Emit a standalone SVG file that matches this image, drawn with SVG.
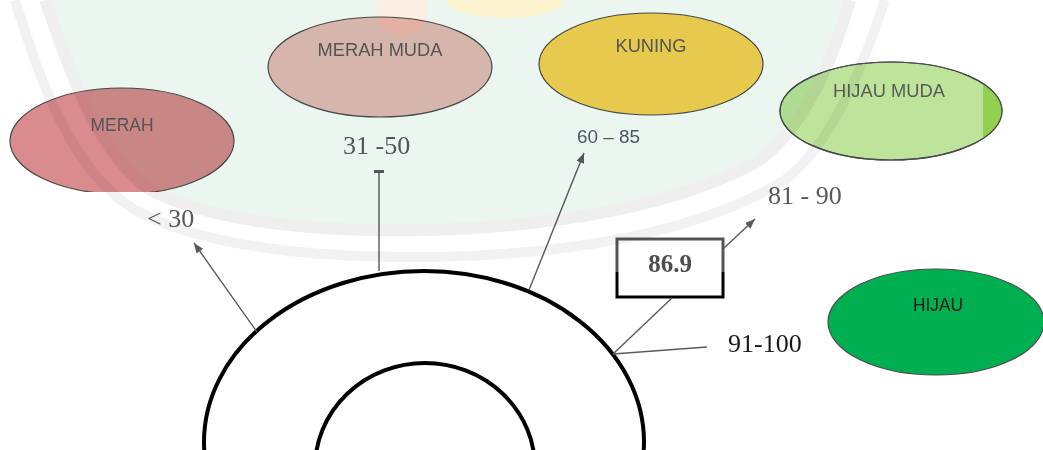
<svg xmlns="http://www.w3.org/2000/svg" width="1043" height="450" viewBox="0 0 1043 450">
  <defs>
    <style>
      .blob { stroke: #4a4a4a; stroke-width: 1.2; }
      .cap { font-family: "Liberation Sans", Arial, sans-serif; font-size: 17.5px; fill: #595959; text-anchor: middle; }
      .num { font-family: "Liberation Serif", "Times New Roman", serif; font-size: 26px; fill: #595959; }
      .conn { fill: none; stroke: #5a5a5a; stroke-width: 1.4; }
      .ring { fill: none; stroke: #000000; stroke-width: 4; }
    </style>
    <marker id="arrow" viewBox="0 0 10 8" refX="10" refY="4" markerWidth="10" markerHeight="8" markerUnits="userSpaceOnUse" orient="auto">
      <path d="M0,0 L10,4 L0,8 Z" fill="#5a5a5a"/>
    </marker>
    <linearGradient id="boxEdge" x1="0" y1="0" x2="0" y2="1">
      <stop offset="0" stop-color="#555555"/>
      <stop offset="0.57" stop-color="#555555"/>
      <stop offset="0.57" stop-color="#000000"/>
      <stop offset="1" stop-color="#000000"/>
    </linearGradient>
    <clipPath id="limeClip">
      <ellipse cx="891" cy="111" rx="111" ry="49"/>
    </clipPath>
  </defs>

  <rect x="0" y="0" width="1043" height="450" fill="#ffffff"/>

  <!-- rings -->
  <g id="ring-outer">
    <ellipse class="ring" cx="424" cy="442" rx="220" ry="171"/>
  </g>
  <g id="ring-inner">
    <ellipse class="ring" cx="425" cy="468" rx="110" ry="105"/>
  </g>

  <!-- colour nodes -->
  <g id="node-merah">
    <ellipse class="blob" cx="122" cy="141" rx="112" ry="53" fill="#d98b8d"/>
    <rect x="87" y="192" width="160" height="10" fill="#ffffff"/>
    <text class="cap" x="122" y="131" textLength="63" lengthAdjust="spacingAndGlyphs">MERAH</text>
  </g>
  <g id="node-merah-muda">
    <ellipse class="blob" cx="380" cy="67" rx="112" ry="50" fill="#e7bcb7"/>
    <text class="cap" x="380" y="56" textLength="125" lengthAdjust="spacingAndGlyphs">MERAH MUDA</text>
  </g>
  <g id="node-kuning">
    <ellipse class="blob" cx="651" cy="64" rx="112" ry="51" fill="#fbd152"/>
    <text class="cap" x="651" y="52" textLength="71" lengthAdjust="spacingAndGlyphs">KUNING</text>
  </g>
  <g id="node-hijau-muda">
    <ellipse class="blob" cx="891" cy="111" rx="111" ry="49" fill="#bee49c"/>
    <rect x="983" y="60" width="25" height="110" fill="#92d050" clip-path="url(#limeClip)"/>
    <ellipse cx="891" cy="111" rx="111" ry="49" fill="none" stroke="#4a4a4a" stroke-width="1.2"/>
    <text class="cap" x="889" y="97" textLength="112" lengthAdjust="spacingAndGlyphs">HIJAU MUDA</text>
  </g>
  <g id="node-hijau">
    <ellipse class="blob" cx="936" cy="322" rx="108" ry="53" fill="#00b050"/>
    <text class="cap" x="938" y="311" textLength="50" lengthAdjust="spacingAndGlyphs" style="fill:#1a1a1a">HIJAU</text>
  </g>

  <!-- range labels -->
  <g id="range-labels">
    <text class="num" x="147" y="227">&lt; 30</text>
    <text class="num" x="343" y="154">31 -50</text>
    <text x="577" y="143" font-family="'Liberation Sans', Arial, sans-serif" font-size="18" fill="#4e5a66" textLength="63" lengthAdjust="spacingAndGlyphs">60 – 85</text>
    <text class="num" x="768" y="204">81 - 90</text>
    <text class="num" x="728" y="352" style="fill:#1a1a1a">91-100</text>
  </g>

  <!-- score box -->
  <g id="node-score">
    <rect x="617" y="239" width="106" height="58" fill="#ffffff" stroke="url(#boxEdge)" stroke-width="3"/>
    <text x="670" y="272" font-family="'Liberation Serif', 'Times New Roman', serif" font-size="25" font-weight="bold" fill="#4d4d4d" text-anchor="middle">86.9</text>
  </g>

  <!-- connectors -->
  <g id="connectors">
    <line class="conn" x1="257" y1="332" x2="194" y2="243" marker-end="url(#arrow)"/>
    <line class="conn" x1="379" y1="271" x2="379" y2="173"/>
    <rect x="374" y="170" width="10" height="3" fill="#5a5a5a"/>
    <line class="conn" x1="529" y1="290" x2="584" y2="153" marker-end="url(#arrow)"/>
    <line class="conn" x1="723" y1="249" x2="755" y2="219" marker-end="url(#arrow)"/>
    <line class="conn" x1="613" y1="354" x2="672" y2="298"/>
    <line class="conn" x1="613" y1="354" x2="707" y2="347"/>
  </g>

  <!-- pale library seal printed over the page -->
  <g id="seal" style="mix-blend-mode:multiply">
    <path d="M45,0 C70,70 95,150 150,190 C220,225 330,232 430,230 C560,226 680,205 760,160 C800,130 830,70 850,0 Z" fill="#ebf6f0"/>
    <path d="M45,0 C70,70 95,150 150,190 C220,225 330,232 430,230 C560,226 680,205 760,160 C800,130 830,70 850,0" fill="none" stroke="#efefef" stroke-width="12"/>
    <path d="M15,0 C40,80 70,170 135,210 C210,250 330,258 430,257 C570,255 700,232 785,180 C830,145 860,75 885,0" fill="none" stroke="#f2f2f2" stroke-width="10"/>
    <ellipse cx="505" cy="2" rx="58" ry="16" fill="#fdf5d2"/>
    <circle cx="402" cy="10" r="26" fill="#fbefe4"/>
  </g>
</svg>
